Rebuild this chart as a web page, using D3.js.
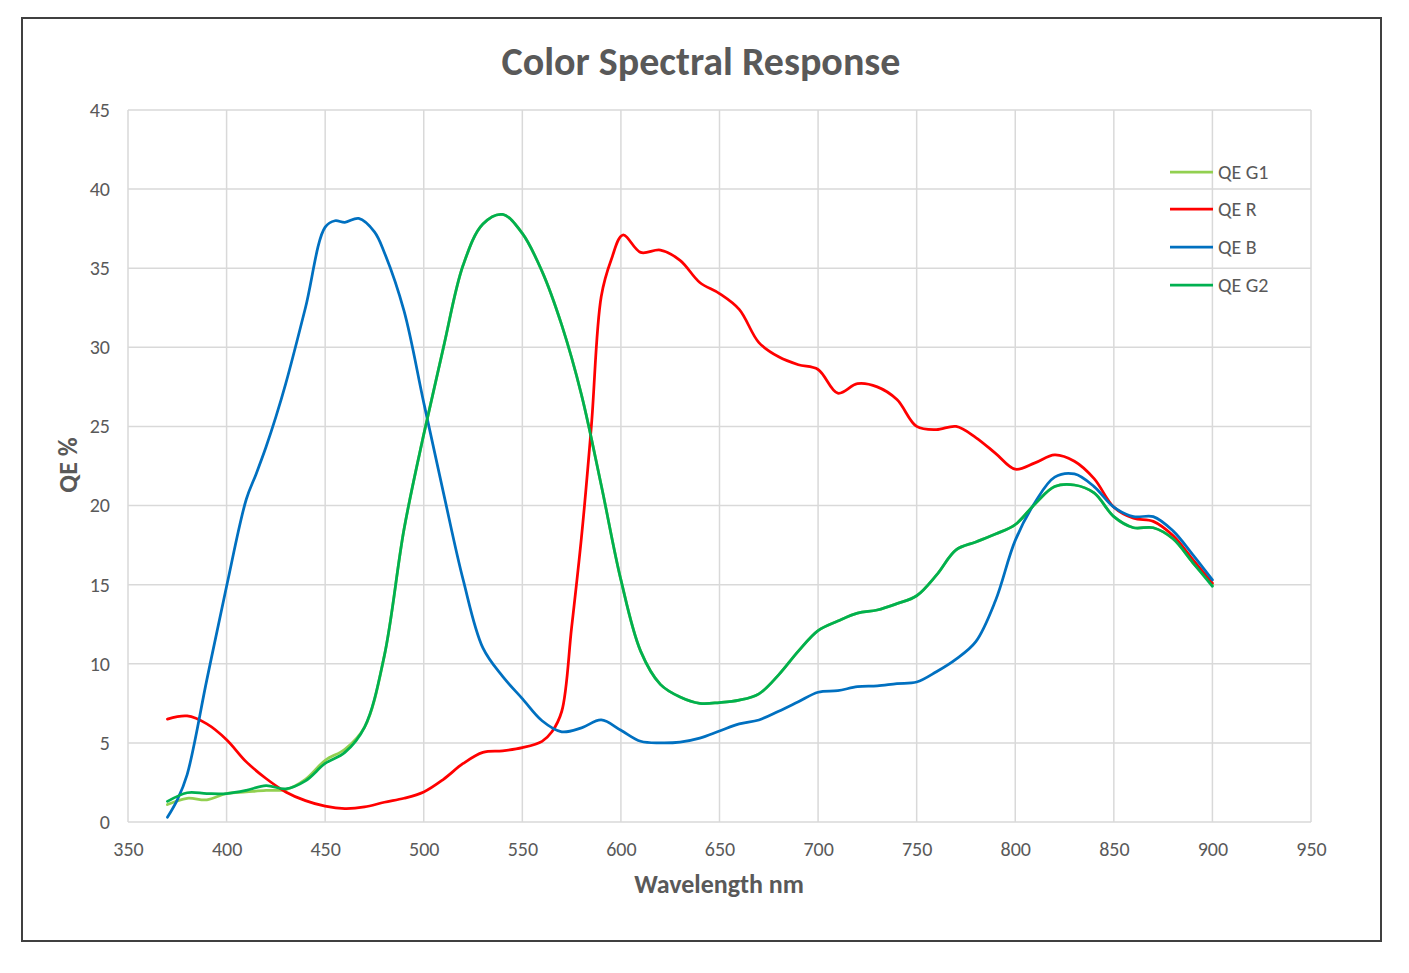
<!DOCTYPE html>
<html><head><meta charset="utf-8">
<script src="https://cdn.jsdelivr.net/npm/d3@7"></script>
<style>body{margin:0;background:#fff}svg{display:block}</style>
</head><body>
<svg id="c" width="1409" height="973"></svg>
<script>
const seriesNames = ["QE G1", "QE R", "QE B", "QE G2"];
const seriesColors = ["#92d050", "#ff0000", "#0070c0", "#00b050"];
const xTicks = [350,400,450,500,550,600,650,700,750,800,850,900,950];
const yTicks = [0,5,10,15,20,25,30,35,40,45];

const wlG = [370,380,390,400,410,420,430,440,450,460,470,480,490,500,510,520,530,540,550,560,570,580,590,600,610,620,630,640,650,660,670,680,690,700,710,720,730,740,750,760,770,780,790,800,810,820,830,840,850,860,870,880,890,900];
const qeG1 = [1.1,1.5,1.4,1.8,1.9,2.0,2.05,2.7,3.9,4.6,6.0,10.5,18.5,24.5,30.0,35.2,37.8,38.4,37.2,34.8,31.4,27.0,21.3,15.3,10.8,8.7,7.9,7.5,7.55,7.7,8.1,9.3,10.8,12.1,12.7,13.2,13.4,13.8,14.3,15.6,17.2,17.7,18.2,18.8,20.1,21.2,21.3,20.8,19.3,18.6,18.6,17.9,16.4,15.0];
const qeG2 = [1.3,1.85,1.8,1.8,2.0,2.3,2.1,2.6,3.7,4.4,6.0,10.5,18.5,24.5,30.0,35.2,37.8,38.4,37.2,34.8,31.4,27.0,21.3,15.3,10.8,8.7,7.9,7.5,7.55,7.7,8.1,9.3,10.8,12.1,12.7,13.2,13.4,13.8,14.3,15.6,17.2,17.7,18.2,18.8,20.1,21.2,21.3,20.8,19.3,18.6,18.6,17.9,16.4,14.9];

const wlR = [370,380,390,400,410,420,430,440,450,460,470,480,490,500,510,520,530,540,550,560,565,570,575,580,585,590,595,601,610,620,630,640,650,660,670,680,690,700,710,720,730,740,750,760,770,780,790,800,810,820,830,840,850,860,870,880,890,900];
const qeR = [6.5,6.7,6.2,5.2,3.8,2.75,1.9,1.35,1.0,0.85,0.95,1.25,1.5,1.9,2.7,3.7,4.4,4.5,4.7,5.1,5.7,7.0,12.3,18.0,25.0,33.2,35.5,37.1,36.0,36.15,35.5,34.1,33.4,32.4,30.3,29.4,28.9,28.6,27.1,27.7,27.5,26.7,25.0,24.8,25.0,24.3,23.3,22.3,22.7,23.2,22.8,21.7,19.9,19.2,19.0,18.1,16.6,15.1];

const wlB = [370,375,380,390,400,410,415,420,425,430,440,450,455,460,467,475,480,490,500,510,520,530,540,550,560,570,580,590,600,610,620,630,640,650,660,670,680,690,700,710,720,730,740,750,760,770,780,790,800,810,820,830,840,850,860,870,880,890,900];
const qeB = [0.3,1.4,3.0,9.0,14.9,20.4,22.0,23.7,25.6,27.7,32.5,37.6,38.0,37.9,38.15,37.3,36.0,32.3,26.5,20.8,15.3,11.0,9.2,7.8,6.4,5.7,5.95,6.45,5.8,5.1,5.0,5.05,5.3,5.75,6.2,6.45,7.0,7.6,8.2,8.3,8.55,8.6,8.75,8.85,9.5,10.3,11.4,14.0,17.8,20.2,21.8,22.0,21.2,19.9,19.3,19.3,18.4,16.9,15.3];

const series = [
  {x: wlG, y: qeG1}, {x: wlR, y: qeR}, {x: wlB, y: qeB}, {x: wlG, y: qeG2}
];

const svg = d3.select("#c");
const font = "Carlito, Calibri, 'Open Sans', sans-serif";
const pL = 128, pR = 1311, pT = 110, pB = 822;
const x = d3.scaleLinear().domain([350, 950]).range([pL, pR]);
const y = d3.scaleLinear().domain([0, 45]).range([pB, pT]);

svg.append("rect").attr("x", 22).attr("y", 18).attr("width", 1359).attr("height", 923)
  .attr("fill", "#fff").attr("stroke", "#404040").attr("stroke-width", 2);

// grid
svg.append("g").selectAll("line").data(yTicks).join("line")
  .attr("x1", pL).attr("x2", pR).attr("y1", d => y(d)).attr("y2", d => y(d))
  .attr("stroke", "#d9d9d9").attr("stroke-width", 1.5);
svg.append("g").selectAll("line").data(xTicks).join("line")
  .attr("y1", pT).attr("y2", pB).attr("x1", d => x(d)).attr("x2", d => x(d))
  .attr("stroke", "#d9d9d9").attr("stroke-width", 1.5);

// axes via d3
const xa = svg.append("g").attr("transform", `translate(0,${pB})`)
  .call(d3.axisBottom(x).tickValues(xTicks).tickSize(0).tickPadding(20));
const ya = svg.append("g").attr("transform", `translate(${pL},0)`)
  .call(d3.axisLeft(y).tickValues(yTicks).tickSize(0).tickPadding(18));
[xa, ya].forEach(a => {
  a.select(".domain").remove();
  a.selectAll("text").attr("fill", "#595959").style("font-family", font).style("font-size", "20px");
});

// lines
const line = d3.line().curve(d3.curveCatmullRom.alpha(0.5));
series.forEach((s, i) => {
  const pts = s.x.map((v, k) => [x(v), y(s.y[k])]);
  svg.append("path").attr("d", line(pts)).attr("fill", "none")
    .attr("stroke", seriesColors[i]).attr("stroke-width", 2.75)
    .attr("stroke-linejoin", "round").attr("stroke-linecap", "round");
});

// title
svg.append("text").attr("x", 701).attr("y", 75).attr("text-anchor", "middle")
  .attr("fill", "#595959").style("font-family", font).style("font-weight", "bold")
  .style("font-size", "40px").text("Color Spectral Response");
svg.append("text").attr("x", 719).attr("y", 893).attr("text-anchor", "middle")
  .attr("fill", "#595959").style("font-family", font).style("font-weight", "bold")
  .style("font-size", "26px").text("Wavelength nm");
svg.append("text").attr("transform", "translate(77,465) rotate(-90)").attr("text-anchor", "middle")
  .attr("fill", "#595959").style("font-family", font).style("font-weight", "bold")
  .style("font-size", "26px").text("QE %");

// legend
const legY = [172, 209, 247, 285];
const lg = svg.append("g");
seriesNames.forEach((n, i) => {
  lg.append("line").attr("x1", 1170).attr("x2", 1213).attr("y1", legY[i]).attr("y2", legY[i])
    .attr("stroke", seriesColors[i]).attr("stroke-width", 2.75);
  lg.append("text").attr("x", 1218).attr("y", legY[i] + 7).attr("fill", "#595959")
    .style("font-family", font).style("font-size", "20px").text(n);
});
</script>
</body></html>
